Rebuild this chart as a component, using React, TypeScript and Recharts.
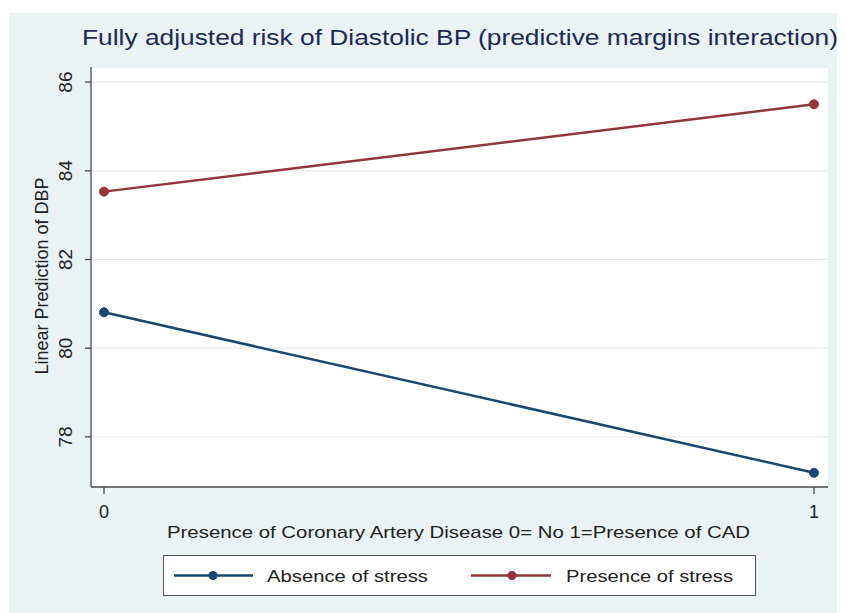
import React from 'react';
import { LineChart, Line, XAxis, YAxis, CartesianGrid, Legend, Customized } from 'recharts';

const cadLevels = [0, 1];
const absenceOfStress = [80.81, 77.19];
const presenceOfStress = [83.53, 85.5];
const yTicks = [78, 80, 82, 84, 86];
const xTicks = [0, 1];
const titleText = 'Fully adjusted risk of Diastolic BP (predictive margins interaction)';
const xTitle = 'Presence of Coronary Artery Disease 0= No 1=Presence of CAD';
const yTitle = 'Linear Prediction of DBP';
const seriesNames = ['Absence of stress', 'Presence of stress'];

const data = cadLevels.map((c, i) => ({
  cad: c,
  absence: absenceOfStress[i],
  presence: presenceOfStress[i],
}));

const FONT = '"Liberation Sans", Arial, Helvetica, sans-serif';
const BLUE = '#1a476f';
const RED = '#90353b';
const AXIS = '#4a4a4a';
const TEXT = '#222222';

const XTick = (props: any) => {
  const { x, y, payload } = props;
  return (
    <text x={x} y={y + 24} textAnchor="middle" fontSize={18} fill={TEXT} fontFamily={FONT}>
      {payload.value}
    </text>
  );
};

const YTick = (props: any) => {
  const { x, y, payload } = props;
  const bx = x - 13;
  return (
    <text
      x={bx}
      y={y}
      transform={`rotate(-90, ${bx}, ${y})`}
      textAnchor="middle"
      fontSize={19}
      fill={TEXT}
      fontFamily={FONT}
    >
      {payload.value}
    </text>
  );
};

const Texts = () => (
  <g>
    <text
      x={74}
      y={37}
      fontSize={22}
      fill="#1c2a55"
      fontFamily={FONT}
      textLength={756}
      lengthAdjust="spacingAndGlyphs"
    >
      {titleText}
    </text>
    <text
      x={159}
      y={530}
      fontSize={17}
      fill={TEXT}
      fontFamily={FONT}
      textLength={583}
      lengthAdjust="spacingAndGlyphs"
    >
      {xTitle}
    </text>
    <text
      x={40}
      y={268}
      transform="rotate(-90, 40, 268)"
      textAnchor="middle"
      fontSize={18}
      fill={TEXT}
      fontFamily={FONT}
    >
      {yTitle}
    </text>
  </g>
);

const legendLayout = [
  { x1: 10, x2: 89, dot: 49, tx: 103, tl: 161 },
  { x1: 307, x2: 387, dot: 348, tx: 402, tl: 167 },
];

const renderLegend = (props: any) => {
  const payload = props.payload || [];
  return (
    <div
      style={{
        width: 593,
        height: 41,
        boxSizing: 'border-box',
        border: '1.5px solid #555',
        background: '#fff',
        position: 'relative',
      }}
    >
      <svg width={590} height={38} style={{ position: 'absolute', left: 0, top: 0 }}>
        {payload.map((entry: any, i: number) => {
          const l = legendLayout[i] || legendLayout[0];
          return (
            <g key={i}>
              <line x1={l.x1} x2={l.x2} y1={19.5} y2={19.5} stroke={entry.color} strokeWidth={2.5} />
              <circle cx={l.dot} cy={19.5} r={4.5} fill={entry.color} />
              <text
                x={l.tx}
                y={25.5}
                fontSize={17}
                fill={TEXT}
                fontFamily={FONT}
                textLength={l.tl}
                lengthAdjust="spacingAndGlyphs"
              >
                {entry.value}
              </text>
            </g>
          );
        })}
      </svg>
    </div>
  );
};

export default function App() {
  return (
    <div style={{ position: 'relative', width: 837, height: 605 }}>
      <div
        style={{
          position: 'absolute',
          left: 1,
          top: 5,
          width: 836,
          height: 600,
          background: '#eaf2f3',
        }}
      />
      <LineChart
        width={837}
        height={605}
        data={data}
        margin={{ top: 59, right: 17, bottom: 96, left: 0 }}
      >
        <CartesianGrid vertical={false} fill="#ffffff" stroke="#e3ebed" strokeWidth={1.2} />
        <XAxis
          dataKey="cad"
          type="number"
          domain={[0, 1]}
          ticks={xTicks}
          padding={{ left: 13, right: 14 }}
          height={30}
          tickSize={7}
          tickMargin={0}
          tick={<XTick />}
          axisLine={{ stroke: AXIS, strokeWidth: 1.3 }}
          tickLine={{ stroke: AXIS, strokeWidth: 1.3 }}
        />
        <YAxis
          type="number"
          domain={[76.87, 86.34]}
          ticks={yTicks}
          width={83}
          tickSize={6}
          tickMargin={0}
          tick={<YTick />}
          axisLine={{ stroke: AXIS, strokeWidth: 1.3 }}
          tickLine={{ stroke: AXIS, strokeWidth: 1.3 }}
          allowDataOverflow
        />
        <Line
          dataKey="absence"
          name={seriesNames[0]}
          stroke={BLUE}
          fill={BLUE}
          strokeWidth={2.5}
          dot={{ r: 4.5, fill: BLUE, stroke: BLUE, strokeWidth: 1 }}
          activeDot={false}
          isAnimationActive={false}
        />
        <Line
          dataKey="presence"
          name={seriesNames[1]}
          stroke={RED}
          fill={RED}
          strokeWidth={2.5}
          dot={{ r: 4.5, fill: RED, stroke: RED, strokeWidth: 1 }}
          activeDot={false}
          isAnimationActive={false}
        />
        <Legend
          layout="horizontal"
          verticalAlign="middle"
          align="center"
          content={renderLegend}
          wrapperStyle={{ position: 'absolute', left: 155, top: 547, width: 593, height: 41 }}
        />
        <Customized component={<Texts />} />
      </LineChart>
    </div>
  );
}
